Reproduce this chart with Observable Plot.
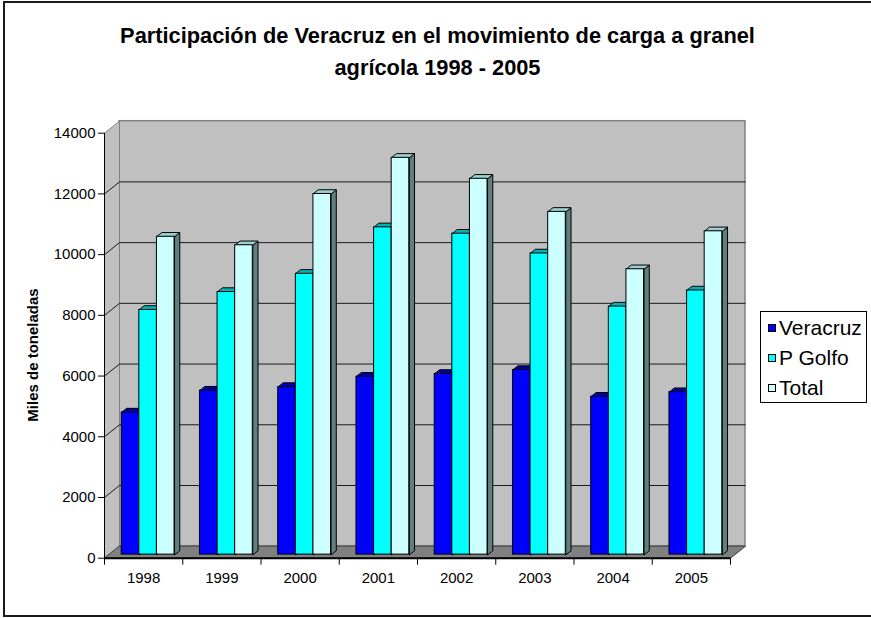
<!DOCTYPE html>
<html><head><meta charset="utf-8">
<script src="https://cdn.jsdelivr.net/npm/d3@7"></script>
<script src="https://cdn.jsdelivr.net/npm/@observablehq/plot@0.6"></script>
<style>
body{margin:0;background:#fff;font-family:"Liberation Sans",Arial,sans-serif;}
#wrap{position:relative;width:871px;height:618px;overflow:hidden;background:#fff;}
#border{position:absolute;left:3px;top:1px;width:900px;height:616px;border:2px solid #1a1a1a;box-sizing:border-box;pointer-events:none;}
#chart{position:absolute;left:0;top:0;}
#chart svg text{font-family:"Liberation Sans",Arial,sans-serif !important;font-size:15px !important;}
#title{position:absolute;left:0;top:19.5px;width:875px;text-align:center;font-weight:bold;font-size:21.8px;line-height:32px;color:#000;}
#ylab{position:absolute;left:32px;top:355px;transform:translate(-50%,-50%) rotate(-90deg);white-space:nowrap;font-weight:bold;font-size:15px;color:#000;}
#legend{position:absolute;left:760px;top:311px;width:107px;height:92px;border:1px solid #000;box-sizing:border-box;background:#fff;}
.item{position:absolute;left:7px;height:20px;display:flex;align-items:center;font-size:21px;color:#000;white-space:nowrap;}
.sw{width:8px;height:8px;border:1px solid #000;box-sizing:border-box;margin-right:3px;}
</style>
</head><body>
<div id="wrap">
  <div id="chart"></div>
  <div id="title">Participación de Veracruz en el movimiento de carga a granel<br>agrícola 1998 - 2005</div>
  <div id="ylab">Miles de toneladas</div>
  <div id="legend"></div>
  <div id="border"></div>
</div>
<script>
// ---- data ----
const years = ["1998", "1999", "2000", "2001", "2002", "2003", "2004", "2005"];
const seriesNames = ["Veracruz", "P Golfo", "Total"];
const veracruz = [4680, 5400, 5520, 5860, 5950, 6080, 5200, 5350];
const pGolfo   = [8060, 8650, 9250, 10780, 10570, 9920, 8170, 8700];
const total    = [10470, 10190, 11880, 13070, 12380, 11290, 9400, 10650];
const yTicks   = [0, 2000, 4000, 6000, 8000, 10000, 12000, 14000];

// ---- styling ----
const frontColors = ["#0000ff", "#00ffff", "#ccffff"];
const topColors   = ["#0000a8", "#00b4b4", "#9ed0d0"];
const sideColors  = ["#000080", "#008080", "#607f7f"];

const W = 871, H = 618;
const xLeft = 104, xRight = 730, yBottom = 557.7, yTop = 132.7;
const yMax = 14000, nCat = years.length;
// oblique depth of the 3-D box, expressed in data units
const DX = 15 / ((xRight - xLeft) / nCat);
const DY = 12 / ((yBottom - yTop) / yMax);
const barW = 0.225, gap0 = 0.1625, t0 = 0.3, t1 = 0.65; // bar front / back depth fractions

const values = [veracruz, pGolfo, total];
const rows = [];
years.forEach((yr, i) => {
  values.forEach((arr, j) => {
    const v = arr[i];
    const x1 = i + gap0 + j * barW + t0 * DX;
    const x2 = x1 + barW;
    const yb = t0 * DY, yt = v + t0 * DY;
    rows.push({i, j, year: yr, series: seriesNames[j], value: v, x1, x2, yb, yt});
  });
});
const dd = (t1 - t0);
const topPts = [], sidePts = [];
rows.forEach((r, k) => {
  const ox = dd * DX, oy = dd * DY;
  [[r.x1, r.yt], [r.x2, r.yt], [r.x2 + ox, r.yt + oy], [r.x1 + ox, r.yt + oy]]
    .forEach(([x, y]) => topPts.push({id: k, x, y, fill: topColors[r.j]}));
  [[r.x2, r.yb], [r.x2, r.yt], [r.x2 + ox, r.yt + oy], [r.x2 + ox, r.yb + oy]]
    .forEach(([x, y]) => sidePts.push({id: k, x, y, fill: sideColors[r.j]}));
});

const sideWall = [[0, 0], [0, yMax], [DX, yMax + DY], [DX, DY]].map(([x, y]) => ({x, y}));
const floor = [[0, 0], [nCat, 0], [nCat + DX, DY], [DX, DY]].map(([x, y]) => ({x, y}));
const grid = yTicks.filter(v => v > 0 && v < yMax);

const chart = Plot.plot({
  width: W, height: H,
  marginLeft: xLeft, marginRight: W - xRight, marginTop: yTop, marginBottom: H - yBottom,
  x: {type: "linear", domain: [0, nCat], range: [xLeft, xRight]},
  y: {type: "linear", domain: [0, yMax], range: [yBottom, yTop]},
  color: {type: "identity"},
  style: {fontFamily: "Liberation Sans, Arial, sans-serif", fontSize: "15px", background: "transparent", color: "#000"},
  marks: [
    // back wall
    Plot.rect([0], {x1: DX, x2: nCat + DX, y1: DY, y2: yMax + DY, fill: "#c0c0c0", stroke: "#808080", strokeWidth: 1.5}),
    // side wall
    Plot.line(sideWall, {x: "x", y: "y", curve: "linear-closed", fill: "#c0c0c0", stroke: "#808080", strokeWidth: 1}),
    // gridlines on the back wall and side wall
    Plot.link(grid, {x1: DX, x2: nCat + DX, y1: d => d + DY, y2: d => d + DY, stroke: "#1a1a1a", strokeWidth: 1}),
    Plot.link(grid, {x1: 0, x2: DX, y1: d => d, y2: d => d + DY, stroke: "#1a1a1a", strokeWidth: 1}),
    // floor
    Plot.line(floor, {x: "x", y: "y", curve: "linear-closed", fill: "#808080", stroke: "#404040", strokeWidth: 1}),
    // bars: side faces, top faces, front faces
    Plot.line(sidePts, {x: "x", y: "y", z: "id", fill: "fill", stroke: "#000", strokeWidth: 1, curve: "linear-closed"}),
    Plot.line(topPts, {x: "x", y: "y", z: "id", fill: "fill", stroke: "#000", strokeWidth: 1, curve: "linear-closed"}),
    Plot.rect(rows, {x1: "x1", x2: "x2", y1: "yb", y2: "yt", fill: d => frontColors[d.j], stroke: "#000", strokeWidth: 1}),
    // axes
    Plot.ruleX([0], {y1: 0, y2: yMax, stroke: "#000", strokeWidth: 1}),
    Plot.ruleY([0], {x1: 0, x2: nCat, stroke: "#000", strokeWidth: 2}),
    Plot.axisY({ticks: yTicks, tickSize: 6, tickPadding: 3, tickFormat: d => String(d), label: null, fontSize: 15}),
    Plot.axisX({ticks: d3.range(nCat + 1), tickSize: 7, tickFormat: () => "", label: null}),
    Plot.text(years, {x: (d, i) => i + 0.5, y: 0, dy: 20, text: d => d, fontSize: 15, fill: "#000"})
  ]
});
document.getElementById("chart").appendChild(chart);

// legend
const leg = document.getElementById("legend");
const legY = [16.3, 46.3, 75.7];
seriesNames.forEach((n, j) => {
  const it = document.createElement("div");
  it.className = "item";
  it.style.top = (legY[j] - 10) + "px";
  const sw = document.createElement("div");
  sw.className = "sw";
  sw.style.background = frontColors[j];
  it.appendChild(sw);
  it.appendChild(document.createTextNode(n));
  leg.appendChild(it);
});
</script>
</body></html>
